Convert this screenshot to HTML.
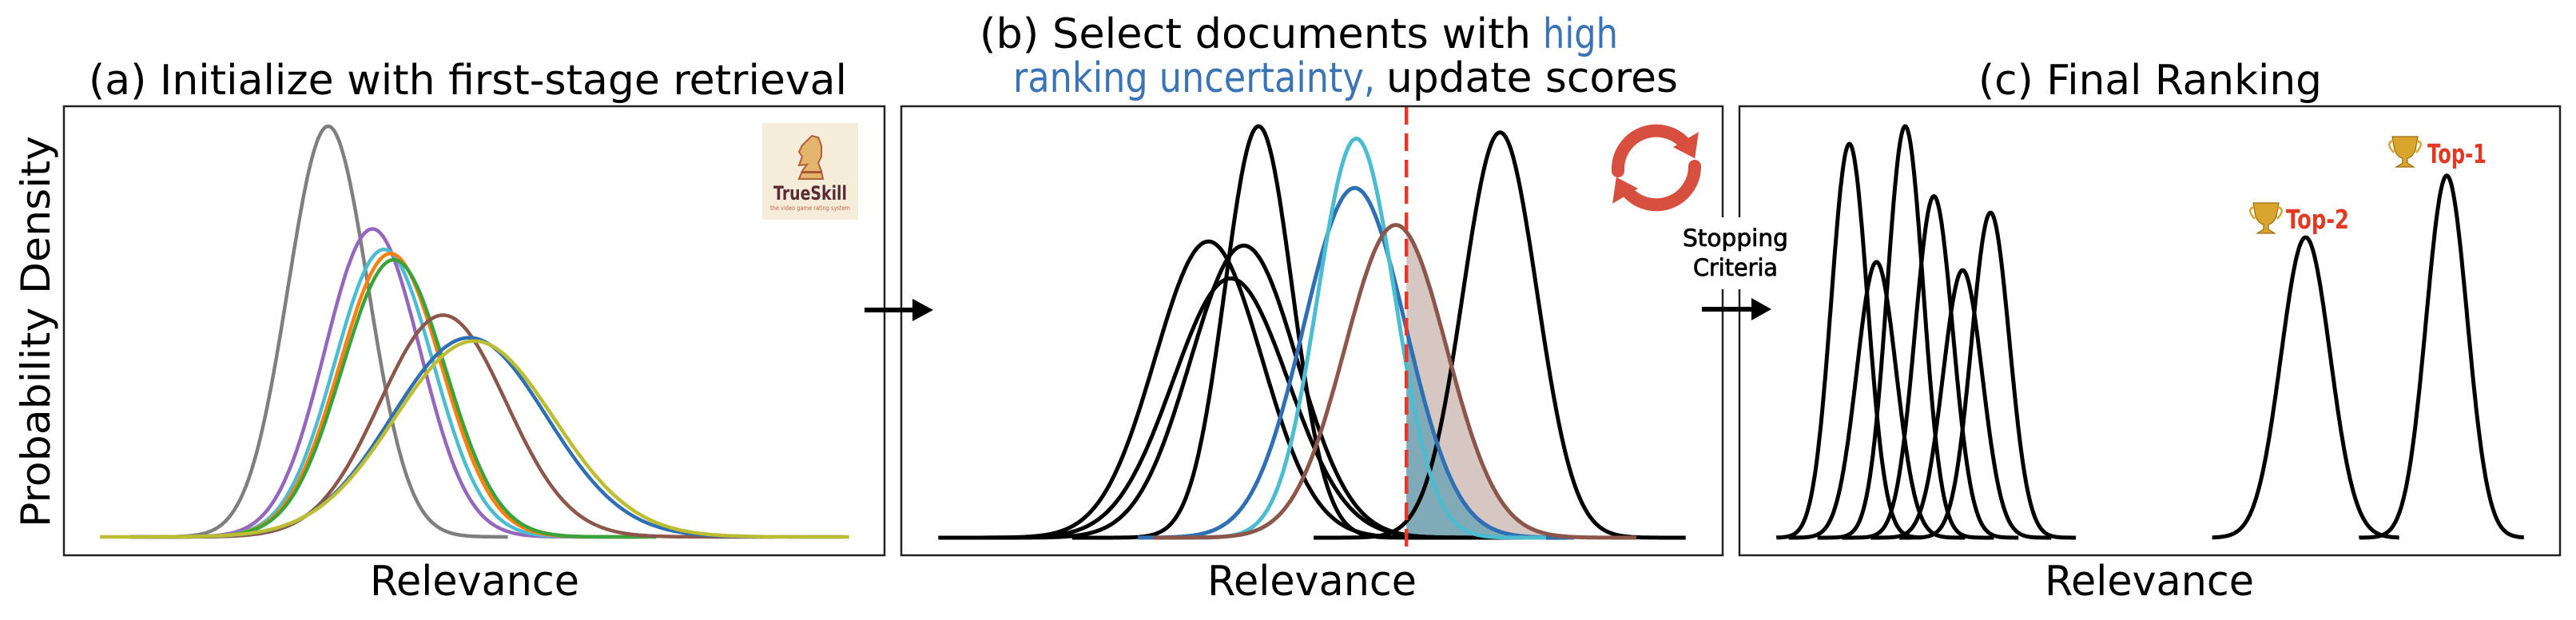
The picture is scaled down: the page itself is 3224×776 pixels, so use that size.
<!DOCTYPE html>
<html><head><meta charset="utf-8"><style>
html,body{margin:0;padding:0;background:#fff;}
svg{display:block;}
text{font-family:"DejaVu Sans","Liberation Sans",sans-serif;}
</style></head><body>
<svg id="fig" width="3224" height="776" viewBox="0 0 3224 776" xmlns="http://www.w3.org/2000/svg">
<rect x="0" y="0" width="3224" height="776" fill="#fff"/>
<text x="111" y="118" font-size="52" textLength="949" lengthAdjust="spacingAndGlyphs">(a) Initialize with first-stage retrieval</text>
<text x="1226" y="60" font-size="52"><tspan textLength="690" lengthAdjust="spacingAndGlyphs">(b) Select documents with</tspan><tspan x="1931" fill="#3b74b4" textLength="94" lengthAdjust="spacingAndGlyphs">high</tspan></text>
<text x="1268" y="115" font-size="52"><tspan fill="#3b74b4" textLength="453" lengthAdjust="spacingAndGlyphs">ranking uncertainty,</tspan><tspan x="1735" textLength="365" lengthAdjust="spacingAndGlyphs">update scores</tspan></text>
<text x="2476" y="118" font-size="52" textLength="430" lengthAdjust="spacingAndGlyphs">(c) Final Ranking</text>
<text transform="translate(62,660) rotate(-90)" font-size="50" textLength="490" lengthAdjust="spacingAndGlyphs">Probability Density</text>
<text x="463" y="745" font-size="52" textLength="262" lengthAdjust="spacingAndGlyphs">Relevance</text>
<text x="1511" y="745" font-size="52" textLength="262" lengthAdjust="spacingAndGlyphs">Relevance</text>
<text x="2559" y="745" font-size="52" textLength="262" lengthAdjust="spacingAndGlyphs">Relevance</text>
<g id="plots"></g>
<rect x="80" y="133" width="1027" height="562" fill="none" stroke="#222" stroke-width="2.5"/>
<rect x="1128" y="133" width="1028" height="562" fill="none" stroke="#222" stroke-width="2.5"/>
<rect x="2177" y="133" width="1027" height="562" fill="none" stroke="#222" stroke-width="2.5"/>
<g>
<rect x="954" y="154" width="120" height="121" fill="#f5ecd9"/>
<path d="M1000 207 L1004 196 L1000 190 L1004 182 L1010 176 L1016 170 L1024 172 L1028 182 L1028 196 L1024 204 L1028 214 L1030 224 L1000 224 L1004 214 L1010 206 Z" fill="#e3b46e" stroke="#b0603a" stroke-width="2"/>
<rect x="1004" y="214" width="24" height="3" fill="#a9552f"/>
<text x="1014" y="250" font-family="Liberation Sans, sans-serif" font-weight="bold" font-size="24" fill="#5b2b34" text-anchor="middle" textLength="92" lengthAdjust="spacingAndGlyphs">TrueSkill</text>
<text x="1014" y="263" font-family="Liberation Sans, sans-serif" font-size="8" fill="#c46a52" text-anchor="middle" textLength="100" lengthAdjust="spacingAndGlyphs">the video game rating system</text>
</g>
<g fill="none" stroke="#d64f3f" stroke-width="16" stroke-linecap="round">
<path d="M2025 214 A48 48 0 0 1 2109 180"/>
<path d="M2121 208 A48 48 0 0 1 2037 240"/>
<polygon points="2097,184 2124,168 2120,196" fill="#d64f3f" stroke-width="3"/>
<polygon points="2047,236 2020,252 2024,224" fill="#d64f3f" stroke-width="3"/>
</g>
<rect x="2096" y="272" width="150" height="90" fill="#fff"/>
<text font-family="Liberation Sans, sans-serif" font-size="29" text-anchor="middle" stroke="#000" stroke-width="0.8"><tspan x="2172" y="308" textLength="132" lengthAdjust="spacingAndGlyphs">Stopping</tspan><tspan x="2172" y="345" textLength="106" lengthAdjust="spacingAndGlyphs">Criteria</tspan></text>
<g><line x1="1082" y1="388" x2="1146" y2="388" stroke="#000" stroke-width="6"/><polygon points="1142,374 1168,388 1142,402" fill="#000"/></g>
<g><line x1="2130" y1="387" x2="2195" y2="387" stroke="#000" stroke-width="6"/><polygon points="2192,373 2217,387 2192,401" fill="#000"/></g>
<g>
<path d="M2820 254 L2852 254 L2849 271 Q2845 280 2839 281 L2839 287 L2847 292 L2825 292 L2833 287 L2833 281 Q2827 280 2823 271 Z" fill="#d9a52c" stroke="#9a6a12" stroke-width="1.2"/>
<path d="M2821 259 Q2811 262 2822 274 M2851 259 Q2861 262 2850 274" fill="none" stroke="#d9a52c" stroke-width="2.5"/>
<text x="2861" y="286" font-family="Liberation Sans, sans-serif" font-weight="bold" font-size="33" fill="#e03a24" textLength="79" lengthAdjust="spacingAndGlyphs">Top-2</text>
</g>
<g>
<path d="M2994 171 L3026 171 L3023 188 Q3019 197 3013 198 L3013 204 L3021 209 L2999 209 L3007 204 L3007 198 Q3001 197 2997 188 Z" fill="#d9a52c" stroke="#9a6a12" stroke-width="1.2"/>
<path d="M2995 176 Q2985 179 2996 191 M3025 176 Q3035 179 3024 191" fill="none" stroke="#d9a52c" stroke-width="2.5"/>
<text x="3038" y="204" font-family="Liberation Sans, sans-serif" font-weight="bold" font-size="33" fill="#e03a24" textLength="74" lengthAdjust="spacingAndGlyphs">Top-1</text>
</g>
</svg>
<script>
// ---- Panel (a) data ----
const aMeans  = [32.2, 37.6, 39.0, 39.8, 40.2, 46.2, 49.4, 50.0];
const aSigmas = [4.9, 5.8, 6.0, 6.2, 6.3, 7.7, 9.4, 9.7];
const aPeaks  = [1.0, 0.75, 0.70, 0.69, 0.675, 0.54, 0.485, 0.477];
const aStarts = [8.1, 8.1, 8.1, 8.1, 8.1, 8.1, 8.1, 4.4];
const aEnds   = [54.1, 66.6, 69.7, 71.0, 72.2, 86.5, 95.1, 95.7];
const aNames  = ['gray','purple','cyan','orange','green','brown','blue','olive'];
// ---- Panel (b) data ----
const bMeans  = [43.5, 37.4, 41.7, 40.1, 72.9, 55.2, 55.4, 60.2];
const bSigmas = [4.1, 6.5, 6.5, 7.0, 4.5, 6.2, 4.7, 6.2];
const bPeaks  = [1.0, 0.72, 0.71, 0.63, 0.985, 0.85, 0.97, 0.76];
const bStarts = [20.8, 4.5, 10.2, 10.2, 50.2, 28.8, 32.1, 30.7];
const bEnds   = [65.9, 75.1, 81.0, 78.0, 95.5, 81.9, 78.5, 89.5];
const bNames  = ['black','black','black','black','black','blue','cyan','brown'];
const bThreshold = 61.5;
// ---- Panel (c) data ----
const cMeans  = [13.4, 20.2, 16.7, 23.7, 27.2, 30.6, 69.0, 86.2];
const cSigmas = [2.2, 2.2, 2.4, 2.3, 2.4, 2.3, 3.0, 2.5];
const cPeaks  = [0.957, 1.0, 0.67, 0.83, 0.65, 0.79, 0.73, 0.88];
const cStarts = [4.5, 9.5, 6.0, 12.5, 16.0, 19.5, 57.6, 75.5];
const cEnds   = [22.3, 31.0, 27.5, 34.0, 38.0, 41.0, 80.4, 95.6];

const colorMap = {gray:'#7f7f7f',purple:'#9467bd',cyan:'#4cbcd0',orange:'#ff7f0e',green:'#3ca23c',brown:'#8c564b',blue:'#2f6fb3',olive:'#bcbd32',black:'#000'};
const NS='http://www.w3.org/2000/svg';
const plots=document.getElementById('plots');

function makeAxes(left,width,base,H){
  return {x:v=>left+v/100*width, y:d=>base-d*H};
}
const axA=makeAxes(80,1027,672,514);
const axB=makeAxes(1128,1028,673,515);
const axC=makeAxes(2177,1027,673,515);

function gauss(v,m,s,p){return p*Math.exp(-(v-m)*(v-m)/(2*s*s));}
function curvePts(ax,m,s,p,a,b){
  const pts=[];const n=300;
  for(let i=0;i<=n;i++){const v=a+(b-a)*i/n;pts.push([ax.x(v),ax.y(gauss(v,m,s,p))]);}
  return pts;
}
function toD(pts){return pts.map((q,i)=>(i?'L':'M')+q[0].toFixed(1)+' '+q[1].toFixed(1)).join(' ');}

function drawCurve(ax,m,s,p,a,b,color,w,name){
  const el=document.createElementNS(NS,'path');
  el.setAttribute('d',toD(curvePts(ax,m,s,p,a,b)));
  el.setAttribute('fill','none');el.setAttribute('stroke',color);el.setAttribute('stroke-width',w);
  
  
  plots.appendChild(el);
}
function drawFill(ax,m,s,p,a,b,color,name){
  const pts=curvePts(ax,m,s,p,a,b);
  let d=toD(pts)+' L'+ax.x(b).toFixed(1)+' '+ax.y(0)+' L'+ax.x(a).toFixed(1)+' '+ax.y(0)+' Z';
  const el=document.createElementNS(NS,'path');
  el.setAttribute('d',d);el.setAttribute('fill',color);
  
  
  plots.appendChild(el);
}
for(let i=0;i<aMeans.length;i++){
  drawCurve(axA,aMeans[i],aSigmas[i],aPeaks[i],aStarts[i],aEnds[i],colorMap[aNames[i]],4.5,'panel-a-curve-'+aNames[i]);
}
drawFill(axB,bMeans[7],bSigmas[7],bPeaks[7],bThreshold,bEnds[7],'#d6c7c3','panel-b-fill-brown');
drawFill(axB,bMeans[5],bSigmas[5],bPeaks[5],bThreshold,bEnds[5],'#80aab7','panel-b-fill-blue');
for(let i=0;i<bMeans.length;i++){
  drawCurve(axB,bMeans[i],bSigmas[i],bPeaks[i],bStarts[i],bEnds[i],colorMap[bNames[i]],5,'panel-b-curve-'+i);
}
const th=document.createElementNS(NS,'line');
th.setAttribute('x1',axB.x(bThreshold));th.setAttribute('x2',axB.x(bThreshold));
th.setAttribute('y1',134);th.setAttribute('y2',695);
th.setAttribute('stroke','#e8382b');th.setAttribute('stroke-width',4.5);th.setAttribute('stroke-dasharray','22 11');


plots.appendChild(th);
for(let i=0;i<cMeans.length;i++){
  drawCurve(axC,cMeans[i],cSigmas[i],cPeaks[i],cStarts[i],cEnds[i],'#000',5,'panel-c-curve-'+i);
}
</script>
</body></html>
